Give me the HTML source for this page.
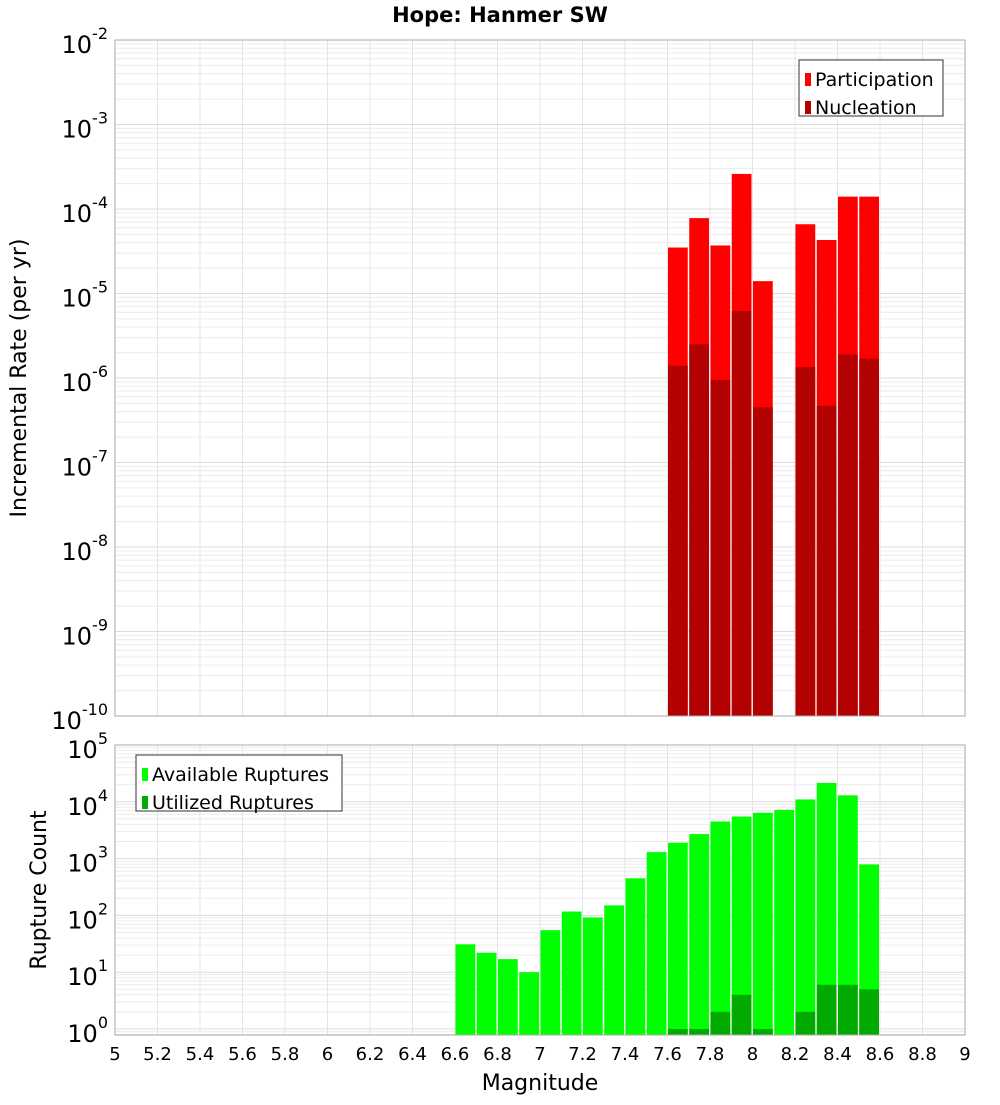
<!DOCTYPE html>
<html><head><meta charset="utf-8"><style>
body{margin:0;background:#fff;font-family:"Liberation Sans","DejaVu Sans",sans-serif}
</style></head><body>
<svg id="chart" width="1000" height="1100" xmlns="http://www.w3.org/2000/svg" font-family="DejaVu Sans, Liberation Sans, sans-serif">
<text x="500" y="22" text-anchor="middle" font-size="21" font-weight="bold">Hope: Hanmer SW</text>
<g id="top"></g><g id="bot"></g>
<text transform="translate(26,378) rotate(-90)" text-anchor="middle" font-size="22">Incremental Rate (per yr)</text>
<text transform="translate(46,890) rotate(-90)" text-anchor="middle" font-size="22">Rupture Count</text>
<text x="540" y="1090" text-anchor="middle" font-size="22">Magnitude</text>
</svg>
<script>
const partMags=[7.65,7.75,7.85,7.95,8.05,8.25,8.35,8.45,8.55];
const partVals=[3.5e-5,7.8e-5,3.7e-5,2.6e-4,1.4e-5,6.6e-5,4.3e-5,1.4e-4,1.4e-4];
const nuclVals=[1.4e-6,2.5e-6,9.5e-7,6.2e-6,4.5e-7,1.35e-6,4.7e-7,1.9e-6,1.7e-6];
const availMags=[6.65,6.75,6.85,6.95,7.05,7.15,7.25,7.35,7.45,7.55,7.65,7.75,7.85,7.95,8.05,8.15,8.25,8.35,8.45,8.55];
const availVals=[31,22,17,10,55,117,92,150,450,1300,1900,2700,4500,5500,6400,7200,11000,21500,13000,790];
const utilMags=[7.65,7.75,7.85,7.95,8.05,8.25,8.35,8.45,8.55];
const utilVals=[1,1,2,4,1,2,6,6,5];
const xTicks=[5,5.2,5.4,5.6,5.8,6,6.2,6.4,6.6,6.8,7,7.2,7.4,7.6,7.8,8,8.2,8.4,8.6,8.8,9];
const topExps=[-2,-3,-4,-5,-6,-7,-8,-9,-10];
const botExps=[5,4,3,2,1,0];
const NS="http://www.w3.org/2000/svg";
const X0=115,X1=965;
const xs=m=>X0+(m-5)/4*(X1-X0);
function mk(p,t,a){const e=document.createElementNS(NS,t);for(const k in a)e.setAttribute(k,a[k]);p.appendChild(e);return e;}
function panel(g,top,bottom,yOf,eMin,eMax,name){
  mk(g,'rect',{x:X0,y:top,width:X1-X0,height:bottom-top,fill:'#fff'});
  for(let e=eMin-1;e<=eMax;e++)for(let k=1;k<10;k++){const y=yOf(k*Math.pow(10,e));if(y<top||y>bottom)continue;
    const l=mk(g,'line',{x1:X0,x2:X1,y1:y,y2:y,stroke:k==1?'#dcdcdc':'#ececec','stroke-width':1});
    }
  xTicks.forEach(t=>{const l=mk(g,'line',{x1:xs(t),x2:xs(t),y1:top,y2:bottom,stroke:'#e4e4e4'});
    });
}
function bar(g,m,v,y0,yOf,fill,name){const r=mk(g,'rect',{x:xs(m-0.05)+0.5,width:xs(m+0.05)-xs(m-0.05)-1.5,y:yOf(v),height:y0-yOf(v),fill:fill});
  }
function ylab(g,e,y,name){const t=mk(g,'text',{x:108,y:y+13,'text-anchor':'end','font-size':24});
  
  t.textContent='10';const s=mk(t,'tspan',{dy:-14,'font-size':16});s.textContent=String(e);}
function legend(g,x,y,w,items){mk(g,'rect',{x:x,y:y,width:w,height:56,fill:'#fff',stroke:'#333'});
  items.forEach((it,i)=>{const yy=y+10+i*28;
    const r=mk(g,'rect',{x:x+6,y:yy+3,width:6,height:13,fill:it[1]});
    
    const t=mk(g,'text',{x:x+16,y:yy+16,'font-size':19});t.textContent=it[0];
    });}
// top panel
const T0=40,T1=716;const yT=v=>T0+(-2-Math.log10(v))*(T1-T0)/8;
const gt=document.getElementById('top');
panel(gt,T0,T1,yT,-10,-2);
partMags.forEach((m,i)=>bar(gt,m,partVals[i],T1,yT,'#ff0000','participation-bar'));
partMags.forEach((m,i)=>bar(gt,m,nuclVals[i],T1,yT,'#b30000','nucleation-bar'));
mk(gt,'rect',{x:X0,y:T0,width:X1-X0,height:T1-T0,fill:'none',stroke:'#aaa'});
topExps.forEach(e=>ylab(gt,e,yT(Math.pow(10,e)),'y-tick-top'));
legend(gt,799,60,144,[['Participation','#ff0000'],['Nucleation','#b30000']]);
// bottom panel
const B0=745,B1=1035;const yB=v=>B0+(5-Math.log10(v))*(1029-745)/5;
const gb=document.getElementById('bot');
panel(gb,B0,B1,yB,0,5);
availMags.forEach((m,i)=>bar(gb,m,availVals[i],B1,yB,'#00ff00','available-bar'));
utilMags.forEach((m,i)=>bar(gb,m,utilVals[i],B1,yB,'#00aa00','utilized-bar'));
mk(gb,'rect',{x:X0,y:B0,width:X1-X0,height:B1-B0,fill:'none',stroke:'#aaa'});
botExps.forEach(e=>ylab(gb,e,yB(Math.pow(10,e)),'y-tick-bottom'));
legend(gb,136,755,206,[['Available Ruptures','#00ff00'],['Utilized Ruptures','#00aa00']]);
xTicks.forEach(t=>{const tx=mk(gb,'text',{x:xs(t),y:1060,'text-anchor':'middle','font-size':18});
  tx.textContent=String(t);});
</script>
</body></html>
